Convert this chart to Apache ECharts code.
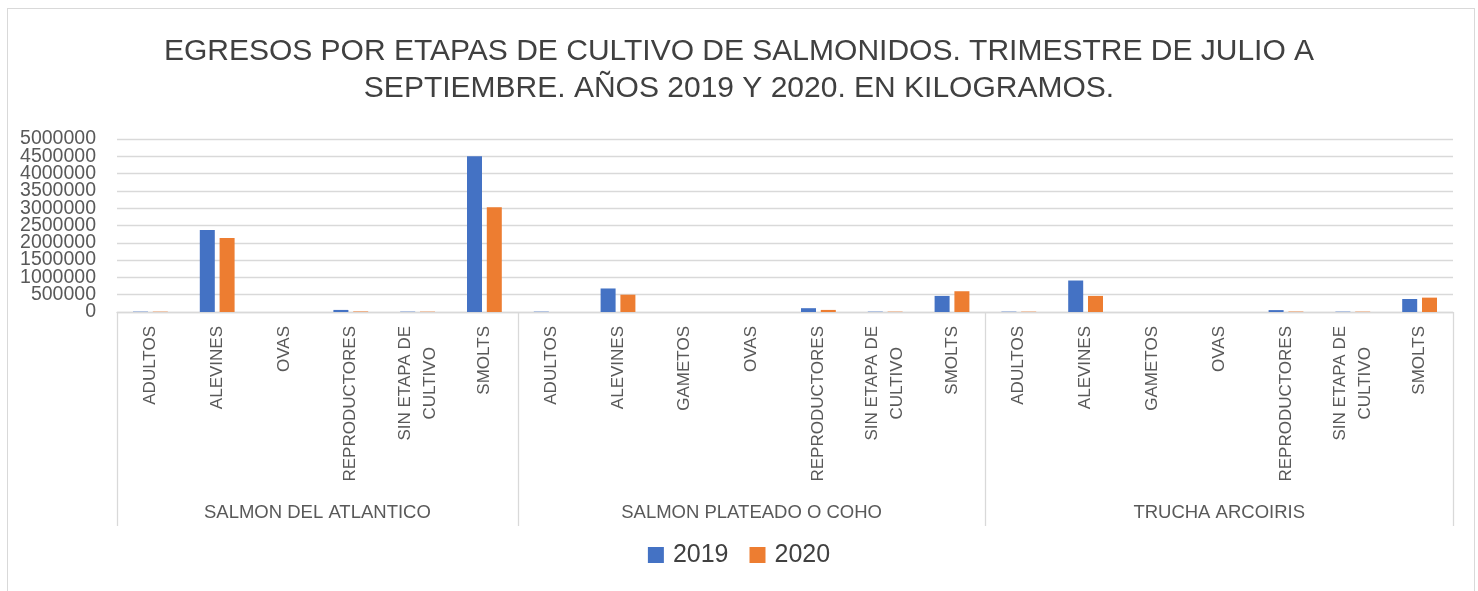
<!DOCTYPE html>
<html>
<head>
<meta charset="utf-8">
<title>Egresos por etapas de cultivo</title>
<script src="https://cdn.jsdelivr.net/npm/echarts@6/dist/echarts.min.js"></script>
<style>
  html, body { margin: 0; padding: 0; background: #fff; }
  #main { position: absolute; left: 0; top: 0; width: 1478px; height: 591px; }
  #frame { position: absolute; left: 7px; top: 8px; width: 1466px; height: 600px; border: 1px solid #d9d9d9; pointer-events: none; }
</style>
</head>
<body>
<div id="main"></div>
<div id="frame"></div>
<script>
// etapas de cultivo, en el orden del eje
var categories = [
  'ADULTOS', 'ALEVINES', 'OVAS', 'REPRODUCTORES', 'SIN ETAPA DE CULTIVO', 'SMOLTS',
  'ADULTOS', 'ALEVINES', 'GAMETOS', 'OVAS', 'REPRODUCTORES', 'SIN ETAPA DE CULTIVO', 'SMOLTS',
  'ADULTOS', 'ALEVINES', 'GAMETOS', 'OVAS', 'REPRODUCTORES', 'SIN ETAPA DE CULTIVO', 'SMOLTS'
]
var groups = ['SALMON DEL ATLANTICO', 'SALMON PLATEADO O COHO', 'TRUCHA ARCOIRIS']
var groupSizes = [6, 7, 7]
var seriesNames = ['2019', '2020']
var data2019 = [
  10000, 2370000, null, 60000, 10000, 4500000,
  10000, 680000, null, null, 110000, 10000, 465000,
  10000, 910000, null, null, 55000, 10000, 375000
]
var data2020 = [
  10000, 2140000, null, 15000, 10000, 3030000,
  null, 500000, null, null, 60000, 10000, 600000,
  10000, 465000, null, null, 12000, 10000, 415000
]
var yMax = 5000000
var yStep = 500000

// limites y centros de cada grupo (en unidades de categoria)
var bounds = [0]
var centers = []
groupSizes.forEach(function (n, i) {
  centers.push(bounds[i] + n / 2)
  bounds.push(bounds[i] + n)
})

var font = "'Liberation Sans', Arial, sans-serif"
var gridColor = '#d9d9d9'
var labelColor = '#595959'

// las etiquetas del eje Y se pisan en el original; se reparten en dos ejes
// para que echarts no oculte las vecinas de 0 y 5000000
function yLabels(even) {
  return {
    margin: 21,
    fontFamily: font,
    fontSize: 19.5,
    color: labelColor,
    hideOverlap: false,
    showMinLabel: even,
    showMaxLabel: even,
    formatter: function (v) {
      var isEven = Math.round(v / yStep) % 2 === 0
      return isEven === even ? String(v) : ''
    }
  }
}

var myChart = echarts.init(document.getElementById('main'))
myChart.setOption({
  animation: false,
  title: {
    text: 'EGRESOS POR ETAPAS DE CULTIVO DE SALMONIDOS. TRIMESTRE DE JULIO A\nSEPTIEMBRE. AÑOS 2019 Y 2020. EN KILOGRAMOS.',
    left: 'center',
    top: 28,
    textStyle: {
      fontFamily: font,
      fontWeight: 'normal',
      fontSize: 30,
      lineHeight: 37,
      color: '#404040'
    }
  },
  legend: {
    bottom: 18,
    left: 'center',
    icon: 'rect',
    itemWidth: 16,
    itemHeight: 16,
    itemGap: 21,
    data: seriesNames,
    textStyle: {
      fontFamily: font,
      fontSize: 25,
      lineHeight: 26,
      color: '#404040',
      padding: [0, 0, 0, 4]
    }
  },
  grid: {
    left: 117,
    right: 25,
    top: 139,
    bottom: 279,
    containLabel: false
  },
  xAxis: [
    {
      type: 'category',
      data: categories,
      position: 'bottom',
      axisLine: { show: true, lineStyle: { color: gridColor, width: 1.3 } },
      axisTick: { show: false },
      splitLine: { show: false },
      axisLabel: {
        interval: 0,
        rotate: 90,
        margin: 14,
        fontFamily: font,
        fontSize: 17,
        color: labelColor,
        formatter: function (v) {
          // etiqueta larga en dos lineas, centradas como en Excel
          if (v === 'SIN ETAPA DE CULTIVO') return '{w|SIN ETAPA DE}\n{w|CULTIVO}'
          return v
        },
        rich: {
          w: {
            align: 'center',
            fontFamily: font,
            fontSize: 17,
            lineHeight: 25,
            color: labelColor
          }
        }
      }
    },
    {
      // segundo nivel: especies y separadores
      type: 'value',
      position: 'bottom',
      min: 0,
      max: categories.length,
      axisLine: { show: false },
      splitLine: { show: false },
      axisTick: {
        show: true,
        customValues: bounds,
        length: 214,
        lineStyle: { color: gridColor, width: 1.3 }
      },
      axisLabel: {
        customValues: centers,
        margin: 191,
        fontFamily: font,
        fontSize: 18.5,
        color: labelColor,
        formatter: function (v) {
          var i = centers.indexOf(v)
          return i >= 0 ? groups[i] : ''
        }
      }
    }
  ],
  yAxis: [
    {
      type: 'value',
      position: 'left',
      min: 0,
      max: yMax,
      interval: yStep,
      axisLine: { show: false },
      axisTick: { show: false },
      axisLabel: yLabels(true),
      splitLine: { show: true, lineStyle: { color: gridColor, width: 1.3 } }
    },
    {
      type: 'value',
      position: 'left',
      offset: 0,
      min: 0,
      max: yMax,
      interval: yStep,
      axisLine: { show: false },
      axisTick: { show: false },
      axisLabel: yLabels(false),
      splitLine: { show: false }
    }
  ],
  series: [
    {
      name: seriesNames[0],
      type: 'bar',
      xAxisIndex: 0,
      yAxisIndex: 0,
      data: data2019,
      barWidth: 15,
      barGap: '32%',
      itemStyle: { color: '#4472c4' }
    },
    {
      name: seriesNames[1],
      type: 'bar',
      xAxisIndex: 0,
      yAxisIndex: 0,
      data: data2020,
      barWidth: 15,
      barGap: '32%',
      itemStyle: { color: '#ed7d31' }
    }
  ]
})
</script>
</body>
</html>
